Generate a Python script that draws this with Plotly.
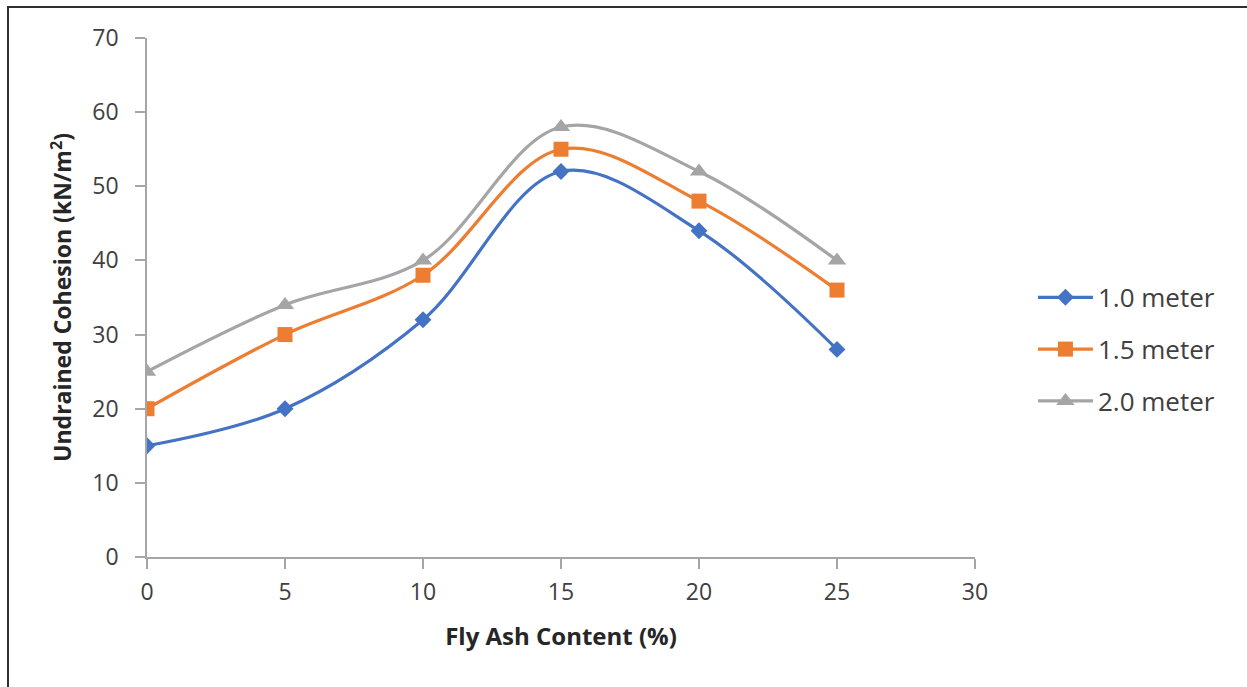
import plotly.graph_objects as go

fly_ash = [0, 5, 10, 15, 20, 25]
series_names = ["1.0 meter", "1.5 meter", "2.0 meter"]
cohesion_1_0 = [15, 20, 32, 52, 44, 28]
cohesion_1_5 = [20, 30, 38, 55, 48, 36]
cohesion_2_0 = [25, 34, 40, 58, 52, 40]
x_ticks = [0, 5, 10, 15, 20, 25, 30]
y_ticks = [0, 10, 20, 30, 40, 50, 60, 70]

colors = ["#4472C4", "#ED7D31", "#A5A5A5"]
symbols = ["diamond", "square", "triangle-up"]
sizes = [13, 15, 16]

fig = go.Figure()
for name, ys, c, s, sz in zip(series_names, [cohesion_1_0, cohesion_1_5, cohesion_2_0], colors, symbols, sizes):
    fig.add_trace(go.Scatter(
        x=fly_ash, y=ys, name=name, legendgroup=name,
        mode="lines+markers",
        line=dict(color=c, width=3.2, shape="spline", smoothing=1.0),
        marker=dict(symbol=s, size=sz, color=c),
    ))

FONT = "Open Sans, Noto Sans, sans-serif"
fig.update_layout(
    width=1247, height=687,
    margin=dict(l=147, r=272, t=38, b=130),
    paper_bgcolor="white", plot_bgcolor="white",
    font=dict(family=FONT, size=22, color="#404040"),
    showlegend=True,
    legend=dict(x=1.07, y=0.40, xanchor="left", yanchor="middle",
                font=dict(size=26, color="#404040"), itemwidth=55,
                tracegroupgap=15, bgcolor="rgba(0,0,0,0)"),
    shapes=[dict(type="rect", xref="paper", yref="paper",
                 x0=(8 - 147) / 828, x1=(1260 - 147) / 828,
                 y0=(557 - 700) / 519, y1=(557 - 7) / 519,
                 line=dict(color="#303030", width=2), fillcolor="rgba(0,0,0,0)", layer="below")],
)
fig.update_xaxes(
    range=[0, 30], tickvals=x_ticks, ticks="outside", ticklen=10, tickwidth=1.5,
    tickcolor="#A6A6A6", showline=True, linecolor="#A6A6A6", linewidth=1.5,
    showgrid=False, zeroline=False, tickfont=dict(size=23, color="#404040"),
    ticklabelstandoff=4,
    title=dict(text="<b>Fly Ash Content (%)</b>", font=dict(size=24, color="#262626"), standoff=22),
)
fig.update_yaxes(
    range=[0, 70], tickvals=y_ticks, ticks="outside", ticklen=10, tickwidth=1.5,
    tickcolor="#A6A6A6", showline=True, linecolor="#A6A6A6", linewidth=1.5,
    showgrid=False, zeroline=False, tickfont=dict(size=23, color="#404040"),
    ticklabelstandoff=12,
    title=dict(text="<b>Undrained Cohesion (kN/m<sup>2</sup>)</b>", font=dict(size=23, color="#262626"), standoff=14),
)
fig.write_html("out.html")
